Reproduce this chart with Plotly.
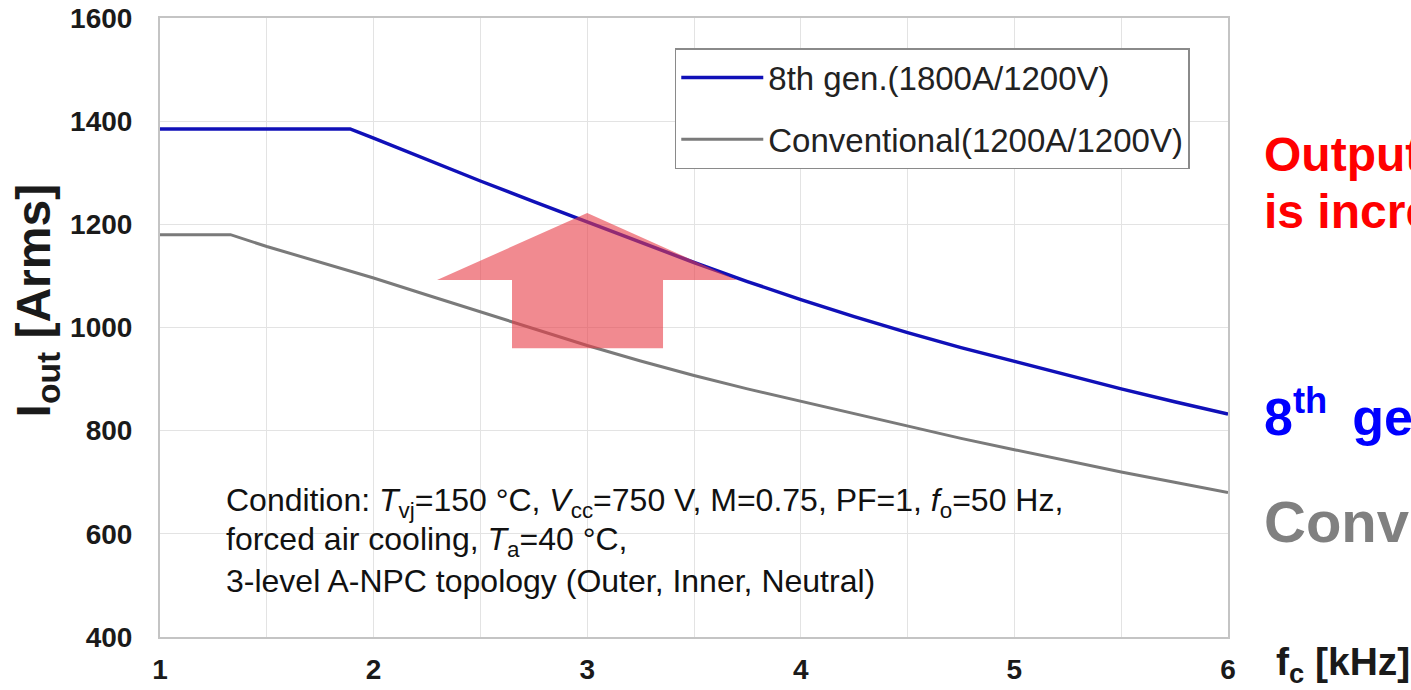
import plotly.graph_objects as go

# Switching frequency fc [kHz] and maximum output current Iout [Arms]
fc_8th = [1, 1.89, 2, 2.25, 2.5, 2.75, 3, 3.25, 3.5, 3.75, 4, 4.25, 4.5,
          4.75, 5, 5.25, 5.5, 5.75, 6]
iout_8th = [1385, 1385, 1367, 1325, 1284, 1244, 1205, 1165, 1126, 1089, 1054, 1021,
            990, 961, 934, 907, 881, 856, 832]

fc_conv = [1, 1.33, 1.5, 1.75, 2, 2.25, 2.5, 2.75, 3, 3.25, 3.5, 3.75, 4, 4.25,
           4.5, 4.75, 5, 5.25, 5.5, 5.75, 6]
iout_conv = [1180, 1180, 1157, 1126, 1096, 1063, 1030, 997, 965, 935, 907, 881, 857,
             832, 808, 785, 763, 741, 720, 700, 680]

name_8th = "8th gen.(1800A/1200V)"
name_conv = "Conventional(1200A/1200V)"

x_ticks = [1, 2, 3, 4, 5, 6]
y_ticks = [400, 600, 800, 1000, 1200, 1400, 1600]

# Up-arrow outline (fc, Iout) marking the current gain
arrow_x = [2.297, 3.0, 3.701, 3.355, 3.355, 2.648, 2.648]
arrow_y = [1092, 1222, 1092, 1092, 960, 960, 1092]

FONT = "Liberation Sans, Arial, sans-serif"

fig = go.Figure()
fig.add_trace(go.Scatter(x=fc_8th, y=iout_8th, mode="lines", name=name_8th,
                         legendgroup="a",
                         line=dict(color="#1010B8", width=3.5)))
fig.add_trace(go.Scatter(x=fc_conv, y=iout_conv, mode="lines", name=name_conv,
                         legendgroup="b",
                         line=dict(color="#7A7A7A", width=3)))

path = "M " + " L ".join(f"{x},{y}" for x, y in zip(arrow_x, arrow_y)) + " Z"
fig.add_shape(type="path", path=path, xref="x", yref="y",
              fillcolor="rgb(232,60,70)", opacity=0.6,
              line=dict(width=0), layer="above")

grid = "#E3E3E3"
fig.update_xaxes(range=[1, 6], tickvals=x_ticks, showgrid=True, gridcolor=grid,
                 gridwidth=1, automargin=False,
                 minor=dict(dtick=0.5, showgrid=True, gridcolor=grid, gridwidth=1),
                 showline=True, mirror=True, linecolor="#C4C4C4", linewidth=2,
                 ticks="", zeroline=False, ticklabelstandoff=6,
                 tickfont=dict(family=FONT, size=28, color="#1A1A1A", weight="bold"))
fig.update_yaxes(range=[400, 1600], tickvals=y_ticks, showgrid=True, gridcolor=grid,
                 gridwidth=1, automargin=False,
                 showline=True, mirror=True, linecolor="#C4C4C4", linewidth=2,
                 ticks="", zeroline=False, ticklabelstandoff=20,
                 tickfont=dict(family=FONT, size=28, color="#1A1A1A", weight="bold"))

annotations = [
    dict(text="I<sub>out</sub> [Arms]", textangle=-90, x=-0.115, y=0.544,
         xanchor="center", yanchor="middle",
         font=dict(family=FONT, size=48, color="#1A1A1A", weight="bold")),
    dict(text="f<sub>c</sub> [kHz]", x=1.043, y=-0.045, xanchor="left", yanchor="middle",
         font=dict(family=FONT, size=39, color="#1A1A1A", weight="bold")),
    dict(text="Condition: <i>T</i><sub>vj</sub>=150 °C, <i>V</i><sub>cc</sub>=750 V, "
              "M=0.75, PF=1, <i>f</i><sub>o</sub>=50 Hz,",
         x=0.06, y=0.2165, xanchor="left", yanchor="middle",
         font=dict(family=FONT, size=32, color="#111111")),
    dict(text="forced air cooling, <i>T</i><sub>a</sub>=40 °C,",
         x=0.06, y=0.1535, xanchor="left", yanchor="middle",
         font=dict(family=FONT, size=32, color="#111111")),
    dict(text="3-level A-NPC topology (Outer, Inner, Neutral)",
         x=0.06, y=0.0905, xanchor="left", yanchor="middle",
         font=dict(family=FONT, size=32, color="#111111")),
    dict(text="Output current", x=1.0318, y=0.779, xanchor="left", yanchor="middle",
         font=dict(family=FONT, size=48, color="#FF0000", weight="bold")),
    dict(text="is increased", x=1.0318, y=0.688, xanchor="left", yanchor="middle",
         font=dict(family=FONT, size=48, color="#FF0000", weight="bold")),
    dict(text="8<sup>th</sup>\u2009 gen.", x=1.0318, y=0.362, xanchor="left",
         yanchor="middle",
         font=dict(family=FONT, size=52, color="#0000FF", weight="bold")),
    dict(text="Conventional", x=1.0318, y=0.187, xanchor="left", yanchor="middle",
         font=dict(family=FONT, size=58, color="#808080", weight="bold")),
]
for a in annotations:
    a.update(xref="paper", yref="paper", showarrow=False)

fig.update_layout(
    width=1411, height=690,
    margin=dict(l=160, r=183, t=18, b=53),
    paper_bgcolor="white", plot_bgcolor="white",
    annotations=annotations,
    showlegend=True,
    legend=dict(x=0.482, y=0.9515, xanchor="left", yanchor="top",
                bgcolor="white", bordercolor="#8A8A8A", borderwidth=1.5,
                font=dict(family=FONT, size=33, color="#222222"),
                tracegroupgap=16, itemwidth=82),
)

fig.write_html("out.html")
